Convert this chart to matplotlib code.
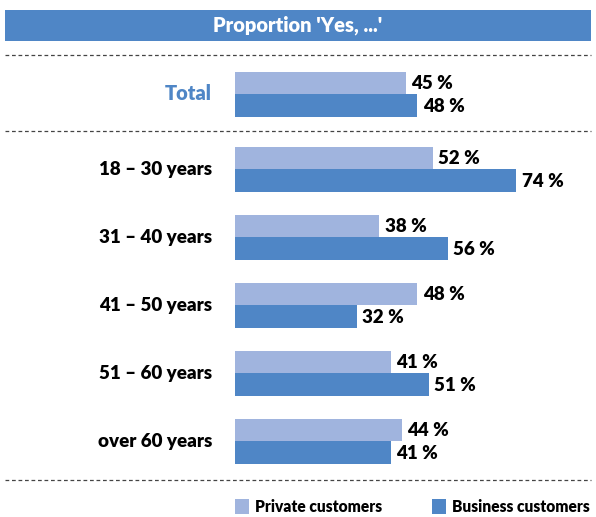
import matplotlib
matplotlib.use("Agg")
import matplotlib.pyplot as plt
from matplotlib.patches import Rectangle

# data
groups = ["Total", "18 \u2013 30 years", "31 \u2013 40 years", "41 \u2013 50 years",
          "51 \u2013 60 years", "over 60 years"]
private = [45, 52, 38, 48, 41, 44]
business = [48, 74, 56, 32, 51, 41]
series_names = ["Private customers", "Business customers"]
title = "Proportion 'Yes, ...'"

LIGHT = "#A0B4DE"
DARK = "#4F86C6"
W, H = 596, 517
WT = "heavy"

plt.rcParams["font.family"] = ["Lato", "DejaVu Sans"]

fig = plt.figure(figsize=(W / 100, H / 100), dpi=100)

# background layer in pixel coords (header, separators, labels, legend)
bg = fig.add_axes([0, 0, 1, 1])
bg.set_xlim(0, W)
bg.set_ylim(H, 0)
bg.axis("off")

bg.add_patch(Rectangle((5, 10), 586, 31, color=DARK, lw=0))
bg.text(298, 25.5, title, color="white", fontsize=14.5, fontweight=WT,
        ha="center", va="center")

for yy in (55, 131, 480):
    bg.plot([5, 591], [yy, yy], color="#444444", lw=0.9, ls=(0, (3, 2.2)))

# group centres
centers = [94] + [169 + 68 * i for i in range(len(groups) - 1)]
bh = 22.5

for i, g in enumerate(groups):
    bg.text(212, centers[i], g, ha="right", va="center",
            fontsize=14.5 if i == 0 else 13.5,
            fontweight=WT, color=DARK if i == 0 else "black")

# bars
ax = fig.add_axes([235 / W, 0, (W - 235) / W, 1])
ax.set_xlim(0, (W - 235) / 3.8)
ax.set_ylim(H, 0)
ax.axis("off")

yp = [c - bh / 2 for c in centers]
yb = [c + bh / 2 for c in centers]
ax.barh(yp, private, height=bh, color=LIGHT, lw=0)
ax.barh(yb, business, height=bh, color=DARK, lw=0)
for y, v in zip(yp, private):
    ax.text(v + 1.4, y + 0.5, f"{v} %", va="center", ha="left", fontsize=13.5,
            fontweight=WT, color="black")
for y, v in zip(yb, business):
    ax.text(v + 1.4, y + 1, f"{v} %", va="center", ha="left", fontsize=13.5,
            fontweight=WT, color="black")

# legend
for x0, col, name in ((235, LIGHT, series_names[0]), (432, DARK, series_names[1])):
    bg.add_patch(Rectangle((x0, 499), 14, 15, color=col, lw=0))
    bg.text(x0 + 20, 506.5, name, ha="left", va="center", fontsize=11.2,
            fontweight=WT, color="black")

fig.savefig("out.png", dpi=100)
